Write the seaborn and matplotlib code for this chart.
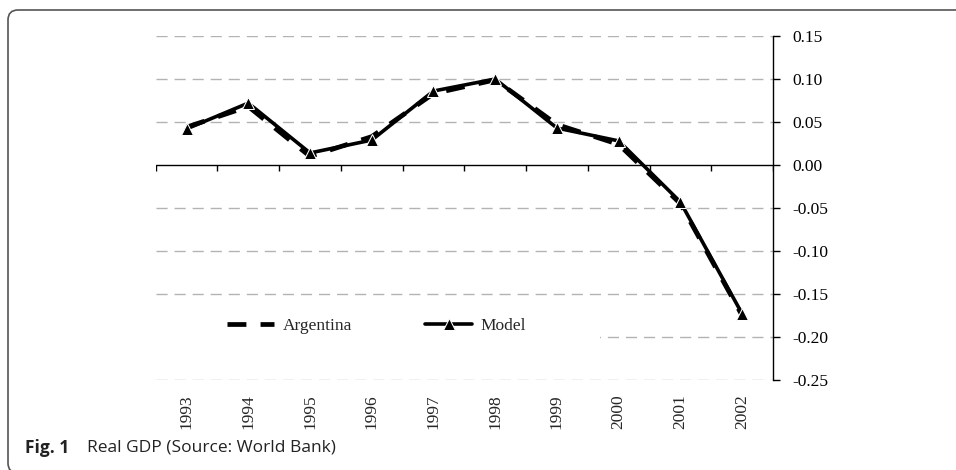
import numpy as np
import pandas as pd
import matplotlib
matplotlib.use("Agg")
import matplotlib.pyplot as plt
import matplotlib.transforms as mtransforms
from matplotlib.patches import FancyBboxPatch, Rectangle
import seaborn as sns

years = ["1993", "1994", "1995", "1996", "1997", "1998", "1999", "2000", "2001", "2002"]
argentina = [0.044, 0.068, 0.010, 0.033, 0.083, 0.099, 0.047, 0.024, -0.045, -0.175]
model = [0.042, 0.072, 0.014, 0.029, 0.086, 0.100, 0.043, 0.028, -0.043, -0.173]
yticks = [0.15, 0.10, 0.05, 0.00, -0.05, -0.10, -0.15, -0.20, -0.25]

df = pd.DataFrame({
    "pos": list(range(len(years))) * 2,
    "value": argentina + model,
    "series": ["Argentina"] * len(years) + ["Model"] * len(years),
})

sns.set_style("white")
plt.rcParams["font.family"] = ["Liberation Serif", "DejaVu Serif"]

fig = plt.figure(figsize=(9.56, 4.70), dpi=100)
ax = fig.add_axes([155.7 / 956, 1 - 380 / 470, (773 - 155.7) / 956, (380 - 36) / 470])

# gridlines (dashed grey), zero line solid black
for v in yticks:
    if v != 0:
        ax.axhline(v, color="#b3b3b3", lw=1.0, ls=(0, (8, 5)), zorder=1)
ax.axhline(0, color="black", lw=1.0, zorder=2)
# white legend area hiding part of the gridline
ax.add_patch(Rectangle((0, 0.07), 0.72, 0.15, transform=ax.transAxes,
                       facecolor="white", edgecolor="none", zorder=1.5))

sns.lineplot(data=df[df.series == "Argentina"], x="pos", y="value", ax=ax,
             color="black", lw=3.4, label="Argentina", zorder=3)
ax.lines[-1].set_dashes((4, 3))
sns.lineplot(data=df[df.series == "Model"], x="pos", y="value", ax=ax,
             color="black", lw=2.6, marker="^", markersize=8, label="Model", zorder=4)

ax.set_xlim(-0.5, len(years) - 0.5)
ax.set_ylim(-0.25, 0.15)
ax.set_xlabel("")
ax.set_ylabel("")

for s in ["top", "left", "bottom"]:
    ax.spines[s].set_visible(False)
ax.spines["right"].set_color("black")
ax.spines["right"].set_linewidth(1.0)
ax.yaxis.tick_right()
ax.set_yticks(yticks)
ax.set_yticklabels([f"{v:.2f}" for v in yticks], fontsize=12.5)
ax.tick_params(axis="y", direction="out", length=5, width=1, pad=9, colors="black")

# category boundary ticks on the zero line
ax.set_xticks([])
ax.vlines(np.arange(len(years) + 1) - 0.5, -0.007, 0, color="black", lw=1, zorder=2)

sec = ax.secondary_xaxis(0)
sec.set_xticks(range(len(years)))
sec.set_xticklabels(years, rotation=90, fontsize=12.5)
sec.tick_params(length=0, pad=10)
sec.spines["bottom"].set_visible(False)

leg = ax.legend(loc="center", bbox_to_anchor=(0.358, 0.157), ncol=2, frameon=False,
                fontsize=12.5, handlelength=2.7, handletextpad=0.5, columnspacing=4.2)

# figure frame and caption
box = FancyBboxPatch((8, -3), 1000, 463, boxstyle="round,pad=0,rounding_size=10",
                     transform=mtransforms.IdentityTransform(), facecolor="none",
                     edgecolor="#555555", lw=1.2)
fig.add_artist(box)
fig.text(25 / 956, 1 - 448 / 470, "Fig. 1", fontsize=12.5, fontweight="bold",
         family=["Open Sans", "DejaVu Sans"], va="center", color="#222222")
fig.text(87 / 956, 1 - 448 / 470, "Real GDP (Source: World Bank)", fontsize=12.5,
         family=["Open Sans", "DejaVu Sans"], va="center", color="#222222")

fig.savefig("out.png", dpi=100)
